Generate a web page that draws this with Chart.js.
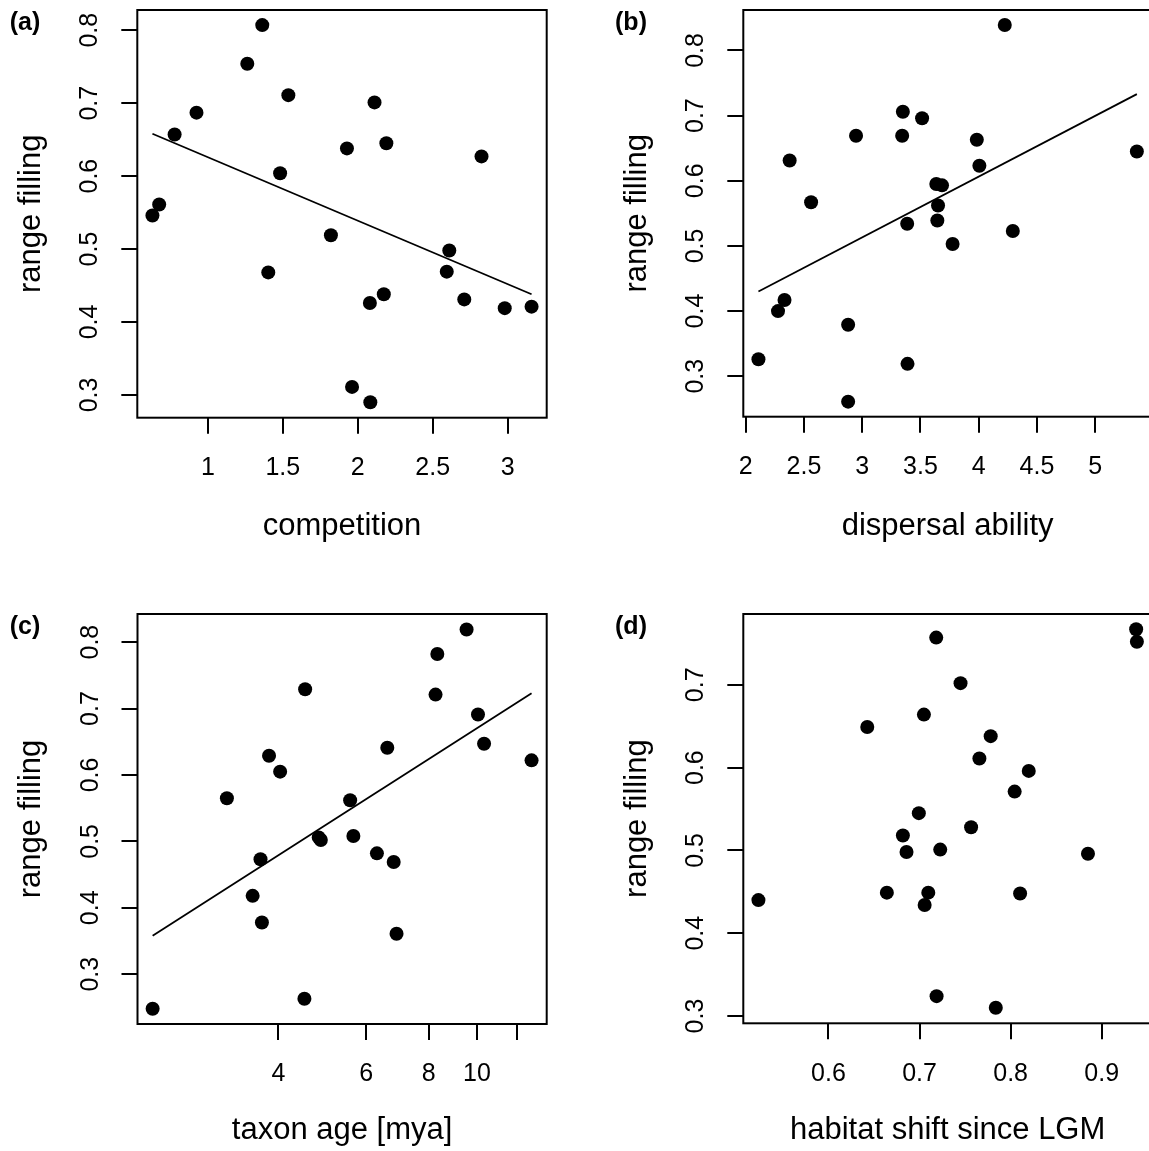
<!DOCTYPE html>
<html>
<head>
<meta charset="utf-8">
<title>range filling</title>
<script src="https://cdn.jsdelivr.net/npm/chart.js@4.4.1/dist/chart.umd.min.js"></script>
<style>
  html, body { margin: 0; padding: 0; overflow: hidden; background: #fff; }
  body { position: relative; width: 1149px; height: 1151px; }
  .panel { position: absolute; height: 560px; }
</style>
</head>
<body>
<div class="panel" style="left:0;top:0;width:575px"><canvas id="chartA"></canvas></div>
<div class="panel" style="left:606px;top:0;width:546px"><canvas id="chartB"></canvas></div>
<div class="panel" style="left:0;top:604px;width:575px"><canvas id="chartC"></canvas></div>
<div class="panel" style="left:606px;top:604px;width:546px"><canvas id="chartD"></canvas></div>
<script>
// values
var competition = [0.630, 0.675, 0.778, 0.924, 1.263, 1.363, 1.537, 1.482, 1.403, 1.821, 1.928, 2.112,
                   2.191, 1.962, 2.084, 2.081, 2.174, 2.611, 2.594, 2.711, 2.826, 2.981, 3.160];
var fillingA = [0.546, 0.561, 0.657, 0.687, 0.754, 0.807, 0.711, 0.604, 0.468, 0.519, 0.638, 0.701,
                0.645, 0.311, 0.290, 0.426, 0.438, 0.498, 0.469, 0.431, 0.627, 0.419, 0.421];

var dispersal = [2.109, 2.277, 2.333, 2.377, 2.561, 2.879, 2.879, 2.947, 3.343, 3.349, 3.514, 3.386,
                 3.389, 3.636, 3.685, 3.651, 3.645, 3.776, 3.984, 4.006, 4.224, 4.293, 5.358];
var fillingB = [0.326, 0.400, 0.417, 0.631, 0.567, 0.379, 0.261, 0.669, 0.669, 0.706, 0.696, 0.534,
                0.319, 0.595, 0.593, 0.562, 0.539, 0.503, 0.663, 0.623, 0.839, 0.523, 0.645];

var taxonAge = [2.240, 3.155, 3.553, 3.684, 3.708, 3.832, 4.033, 4.526, 4.511, 4.819, 4.866, 5.570,
                5.654, 6.302, 6.809, 6.899, 6.611, 8.259, 8.327, 9.530, 10.045, 10.330, 12.86];
var fillingC = [0.248, 0.565, 0.418, 0.473, 0.378, 0.629, 0.605, 0.729, 0.263, 0.506, 0.502, 0.562,
                0.508, 0.482, 0.469, 0.361, 0.641, 0.721, 0.782, 0.819, 0.691, 0.647, 0.622];

var habitatShift = [0.5231, 0.6426, 0.6641, 0.6817, 0.6857, 0.6992, 0.7048, 0.7056, 0.7096, 0.7183, 0.7187, 0.7227,
                    0.745, 0.7566, 0.7657, 0.7781, 0.7837, 0.8044, 0.8104, 0.8199, 0.8849, 0.9378, 0.9386];
var fillingD = [0.440, 0.649, 0.449, 0.518, 0.498, 0.545, 0.664, 0.434, 0.449, 0.757, 0.324, 0.501,
                0.702, 0.528, 0.611, 0.638, 0.310, 0.571, 0.448, 0.596, 0.496, 0.767, 0.752];

// fitted lines (end points, panels a-c)
var fitAx = [0.630, 3.160], fitAy = [0.658, 0.438];
var fitBx = [2.109, 5.358], fitBy = [0.430, 0.733];
var fitCx = [2.240, 12.86], fitCy = [0.358, 0.723];

// tick labels
var ticksA = [1, 1.5, 2, 2.5, 3];
var ticksB = [2, 2.5, 3, 3.5, 4, 4.5, 5];
var ticksC = [4, 6, 8, 10, 12];
var ticksD = [0.6, 0.7, 0.8, 0.9];
var ticksFill = [0.3, 0.4, 0.5, 0.6, 0.7, 0.8];
var ticksFillD = [0.3, 0.4, 0.5, 0.6, 0.7];

var FONT = '"Liberation Sans", Arial, Helvetica, sans-serif';
Chart.defaults.font.family = FONT;
Chart.defaults.color = '#000';

// box round the plot region + panel letter
var panelFrame = {
  id: 'panelFrame',
  afterDatasetsDraw: function (chart, args, opts) {
    var a = chart.chartArea, ctx = chart.ctx;
    ctx.save();
    ctx.strokeStyle = '#000';
    ctx.lineWidth = 2;
    ctx.strokeRect(a.left, a.top, a.right - a.left, a.bottom - a.top);
    ctx.font = 'bold 25px ' + FONT;
    ctx.fillStyle = '#000';
    ctx.textAlign = 'center';
    ctx.textBaseline = 'middle';
    ctx.fillText(opts.tag, 25, 23);
    ctx.restore();
  }
};

function points(xs, ys) {
  return xs.map(function (v, i) { return { x: v, y: ys[i] }; });
}

function fixTicks(list) {
  return function (scale) {
    scale.ticks = list.map(function (v) { return { value: v }; });
  };
}

function makePanel(id, p) {
  var datasets = [];
  if (p.fitX) {
    datasets.push({ data: points(p.fitX, p.fitY), showLine: true, borderColor: '#000',
                    borderWidth: 1.8, pointRadius: 0, fill: false });
  }
  datasets.push({ data: points(p.x, p.y), pointRadius: 7, pointBackgroundColor: '#000',
                  pointBorderWidth: 0, showLine: false });

  var gridOpts = { display: true, drawOnChartArea: false, drawTicks: true, tickLength: 16,
                   tickColor: '#000', lineWidth: 2 };

  new Chart(document.getElementById(id), {
    type: 'scatter',
    data: { datasets: datasets },
    plugins: [panelFrame],
    options: {
      responsive: true,
      maintainAspectRatio: false,
      animation: false,
      events: [],
      layout: { autoPadding: false, padding: { top: 10, right: p.padRight, left: 0, bottom: 0 } },
      plugins: {
        legend: { display: false },
        tooltip: { enabled: false },
        panelFrame: { tag: p.tag }
      },
      scales: {
        x: {
          type: p.xType || 'linear',
          min: p.xMin, max: p.xMax,
          afterBuildTicks: fixTicks(p.xTicks),
          afterFit: function (s) { s.height = p.xHeight; s.paddingLeft = 0; s.paddingRight = 0; },
          grid: gridOpts,
          border: { display: false },
          ticks: {
            autoSkip: false, maxRotation: 0, minRotation: 0, padding: 19.5,
            font: { size: 25 },
            callback: function (v) { return p.xHidden && p.xHidden.indexOf(v) >= 0 ? '' : String(v); }
          },
          title: { display: true, text: p.xTitle, font: { size: 31 }, padding: { top: 0, bottom: 15 } }
        },
        y: {
          min: p.yMin, max: p.yMax,
          afterBuildTicks: fixTicks(p.yTicks),
          afterFit: function (s) { s.width = p.yWidth; s.paddingTop = 0; s.paddingBottom = 0; },
          grid: gridOpts,
          border: { display: false },
          ticks: {
            autoSkip: false, minRotation: 90, maxRotation: 90, crossAlign: 'center', padding: 13.5,
            font: { size: 25 },
            callback: function (v) { return String(v); }
          },
          title: { display: true, text: 'range filling', font: { size: 31 }, padding: { top: 13, bottom: 0 } }
        }
      }
    }
  });
}

makePanel('chartA', {
  tag: '(a)', x: competition, y: fillingA, fitX: fitAx, fitY: fitAy,
  xMin: 0.529, xMax: 3.261, yMin: 0.2688, yMax: 0.8277,
  xTicks: ticksA, yTicks: ticksFill, xTitle: 'competition',
  yWidth: 137.3, padRight: 28.3, xHeight: 142.3
});

makePanel('chartB', {
  tag: '(b)', x: dispersal, y: fillingB, fitX: fitBx, fitY: fitBy,
  xMin: 1.979, xMax: 5.488, yMin: 0.2379, yMax: 0.8621,
  xTicks: ticksB, yTicks: ticksFill, xTitle: 'dispersal ability',
  yWidth: 137.3, padRight: 0, xHeight: 143.3
});

makePanel('chartC', {
  tag: '(c)', x: taxonAge, y: fillingC, fitX: fitCx, fitY: fitCy, xType: 'logarithmic',
  xMin: 2.089, xMax: 13.79, yMin: 0.2251, yMax: 0.8423,
  xTicks: ticksC, xHidden: [12], yTicks: ticksFill, xTitle: 'taxon age [mya]',
  yWidth: 137.5, padRight: 28.3, xHeight: 140
});

makePanel('chartD', {
  tag: '(d)', x: habitatShift, y: fillingD,
  xMin: 0.5065, xMax: 0.9552, yMin: 0.2912, yMax: 0.7855,
  xTicks: ticksD, yTicks: ticksFillD, xTitle: 'habitat shift since LGM',
  yWidth: 137.3, padRight: 0, xHeight: 140.7
});
</script>
</body>
</html>
